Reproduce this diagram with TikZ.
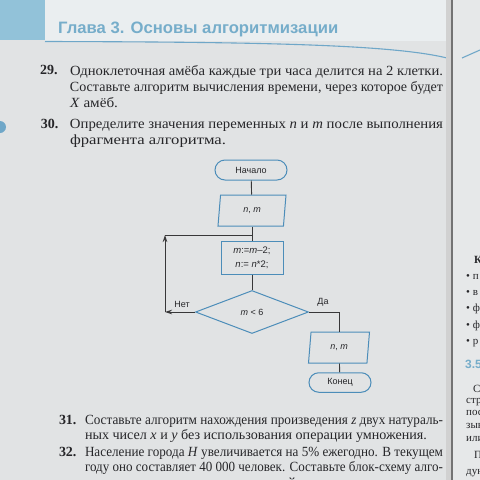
\documentclass[tikz,border=0pt]{standalone}
\usepackage{fontspec}
\setmainfont{Liberation Serif}
\newfontfamily\hdfont{Liberation Sans}
\usetikzlibrary{shapes.geometric,shapes.misc,arrows.meta}
\definecolor{paper}{HTML}{E1E3E4}
\definecolor{headbg}{HTML}{EAEEF0}
\definecolor{blueblk}{HTML}{92C2D9}
\definecolor{headtxt}{HTML}{76ADCA}
\definecolor{headline}{HTML}{6FA7C8}
\definecolor{shapeblue}{HTML}{4C8DB9}
\definecolor{ink}{HTML}{262629}
\definecolor{ink2}{HTML}{383839}
\definecolor{rpage}{HTML}{E6E8E9}
\newcommand{\fitw}[2]{\resizebox{#1pt}{\height}{#2}}
\begin{document}
\begin{tikzpicture}[x=1pt,y=-1pt,
  txt/.style={anchor=base west, inner sep=0pt, outer sep=0pt, text=ink, font=\fontsize{14}{16}\selectfont},
  num/.style={txt, font=\fontsize{14}{16}\selectfont\bfseries},
  shp/.style={draw=shapeblue, line width=1pt},
  conn/.style={draw=ink2, line width=0.9pt},
  arr/.style={conn, -{Stealth[length=7pt,width=4.5pt]}},
  fc/.style={font=\hdfont\fontsize{9}{11}\selectfont, text=ink},
  term/.style={shp, fc, rounded rectangle, minimum width=72pt, minimum height=20pt, inner sep=0pt},
  io/.style={shp, fc, trapezium, trapezium left angle=67, trapezium right angle=113, trapezium stretches body=true, inner sep=0pt},
  proc/.style={shp, rectangle, minimum width=62pt, minimum height=33pt, align=center, inner sep=0pt, text=ink, font=\hdfont\fontsize{9.5}{14}\selectfont},
  dec/.style={shp, fc, diamond, aspect=1, minimum width=113pt, minimum height=43pt, inner sep=0pt},
  rp/.style={anchor=base west, inner sep=0pt, text=ink, font=\fontsize{11}{13}\selectfont},
]
\useasboundingbox (0,0) rectangle (480,480);
\clip (0,0) rectangle (480,480);
% page background
\fill[paper] (0,0) rectangle (480,480);
\fill[headbg] (45,0) rectangle (452,41);
\fill[blueblk] (0,0) rectangle (45,40);
\draw[headline, line width=1.1pt] (45,41.5) .. controls (250,42) and (390,44) .. (447,58);
\fill[headline] (0,127) circle (6);
% right page
\fill[rpage] (452,0) rectangle (480,480);
\fill[black!18] (446,0) rectangle (452,480);
\draw[black!55, line width=1.2pt] (452,0) -- (452,480);
\draw[headline, line width=1.1pt] (462,58) -- (480,50);

% heading
\node[anchor=base west, inner sep=0pt, text=headtxt, font=\hdfont\bfseries\fontsize{16.5}{18}\selectfont] (hd) at (58,33) {\fitw{280}{Глава 3. Основы алгоритмизации}};

% problem 29
\node[num] (n29) at (40,74) {29.};
\node[txt] (t29a) at (70,75) {\fitw{373}{Одноклеточная амёба каждые три часа делится на 2 клетки.}};
\node[txt] (t29b) at (70,91) {\fitw{373}{Составьте алгоритм вычисления времени, через которое будет}};
\node[txt] (t29c) at (70,107) {\fitw{48}{\textit{X} амёб.}};
% problem 30
\node[num] (n30) at (41,128) {30.};
\node[txt] (t30a) at (70,128) {\fitw{373}{Определите значения переменных \textit{n} и \textit{m} после выполнения}};
\node[txt] (t30b) at (70,144) {\fitw{156}{фрагмента алгоритма.}};

% flowchart
\node[term] (start) at (251,170) {Начало};
\node[io, minimum width=68pt, minimum height=31pt] (p1) at (252,210.5) {\textit{n}, \textit{m}};
\node[proc] (op) at (252,257.5) {\textit{m}:=\textit{m}–2;\\\textit{n}:= \textit{n}*2;};
\node[dec] (dc) at (252,312) {\textit{m} < 6};
\node[io, minimum width=61pt, minimum height=31pt] (p2) at (339,347.5) {\textit{n}, \textit{m}};
\node[term, minimum width=62pt, minimum height=19.5pt] (fin) at (340,382.5) {Конец};
\coordinate (j) at (252,235);
\coordinate (lt) at (165,235);
\coordinate (lb) at (165,312);
\node[fc] (no) at (182,304) {Нет};
\node[fc] (yes) at (323,302) {Да};

\draw[conn] (start) -- (p1);
\draw[conn] (p1) -- (op);
\draw[conn] (op) -- (dc);
\draw[arr] (dc.west) -- (lb);
\draw[arr] (lb) -- (lt);
\draw[conn] (lt) -- (j);
\draw[conn] (dc.east) -| (p2);
\draw[conn] (p2) -- (fin);

% problems 31, 32
\node[num] (n31) at (59,424) {31.};
\node[txt] (t31a) at (85,424) {\fitw{358}{Составьте алгоритм нахождения произведения \textit{z} двух натураль-}};
\node[txt] (t31b) at (85,439) {\fitw{342}{ных чисел \textit{x} и \textit{y} без использования операции умножения.}};
\node[num] (n32) at (59,456) {32.};
\node[txt] (t32a) at (85,456) {\fitw{358}{Население города \textit{H} увеличивается на 5\% ежегодно. В текущем}};
\node[txt] (t32b) at (85,471) {\fitw{358}{году оно составляет 40 000 человек. Составьте блок-схему алго-}};
\node[txt, anchor=base east] (t32c) at (440,487) {предполагаемой численности населения};

% right page fragments
\begin{scope}
\clip (454,0) rectangle (480,480);
\node[rp, font=\fontsize{11}{13}\selectfont\bfseries] (r0) at (474,263) {К};
\node[rp] (r1) at (466,279) {• п};
\node[rp] (r2) at (466,295) {• в};
\node[rp] (r3) at (466,311) {• ф};
\node[rp] (r4) at (466,328) {• ф};
\node[rp] (r5) at (466,344) {• р};
\node[rp, text=headtxt, font=\hdfont\bfseries\fontsize{12}{14}\selectfont] (r6) at (465,368) {3.5};
\node[rp] (r7) at (473,392) {С};
\node[rp] (r8) at (466,403) {стро};
\node[rp] (r9) at (466,415) {посл};
\node[rp] (r10) at (466,428) {зыва};
\node[rp] (r11) at (466,441) {или};
\node[rp] (r12) at (474,458) {П};
\node[rp] (r13) at (466,474) {дую};
\end{scope}
\end{tikzpicture}
\end{document}
